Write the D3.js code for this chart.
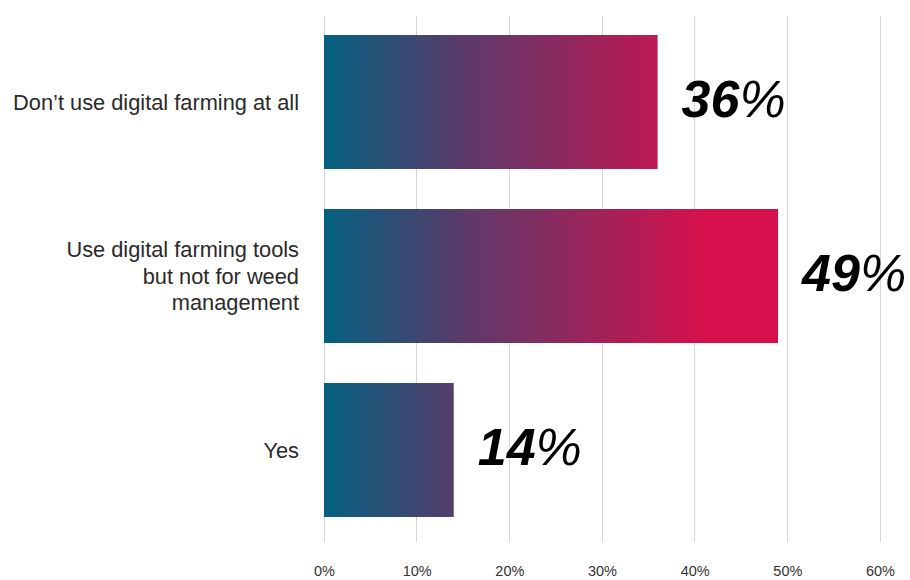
<!DOCTYPE html>
<html>
<head>
<meta charset="utf-8">
<script src="https://cdn.jsdelivr.net/npm/d3@7"></script>
<style>
  html, body { margin: 0; padding: 0; background: #fff; }
  svg { display: block; font-family: "Liberation Sans", Arial, Helvetica, sans-serif; }
</style>
</head>
<body>
<svg id="chart" width="910" height="580"></svg>
<script>
// Survey answers and their shares (%)
const categories = [
  ["Don\u2019t use digital farming at all"],
  ["Use digital farming tools", "but not for weed", "management"],
  ["Yes"]
];
const values = [36, 49, 14];
const xTicks = [0, 10, 20, 30, 40, 50, 60];

const svg = d3.select("#chart");
const left = 324, right = 880;

const x = d3.scaleLinear().domain([0, 60]).range([left, right]);
const y = d3.scaleBand()
  .domain(d3.range(values.length))
  .range([15, 537])
  .paddingInner(0.23)
  .paddingOuter(0.115);

// Colour ramp laid out across the plot so shorter bars stop earlier in the blend
const defs = svg.append("defs");
const grad = defs.append("linearGradient")
  .attr("id", "barGrad")
  .attr("gradientUnits", "userSpaceOnUse")
  .attr("x1", x(0)).attr("x2", x(41))
  .attr("y1", 0).attr("y2", 0);
grad.append("stop").attr("offset", "0%").attr("stop-color", "#03617f");
grad.append("stop").attr("offset", "35%").attr("stop-color", "#583c6b");
grad.append("stop").attr("offset", "100%").attr("stop-color", "#d5104c");

// Vertical grid lines
svg.append("g")
  .selectAll("line")
  .data(xTicks)
  .join("line")
  .attr("x1", d => x(d)).attr("x2", d => x(d))
  .attr("y1", 16).attr("y2", 542)
  .attr("stroke", "#d6d6d6")
  .attr("stroke-width", 1)
  .attr("shape-rendering", "crispEdges");

// Bottom axis labels
const axis = d3.axisBottom(x)
  .tickValues(xTicks)
  .tickFormat(d => d + "%")
  .tickSize(0)
  .tickPadding(0);
const axisG = svg.append("g")
  .attr("transform", "translate(0,566)")
  .call(axis);
axisG.select(".domain").remove();
axisG.selectAll("text")
  .attr("font-size", 14.5)
  .attr("font-family", "\"Liberation Sans\", Arial, sans-serif")
  .attr("fill", "#333");

// Bars
svg.append("g")
  .selectAll("rect")
  .data(values)
  .join("rect")
  .attr("x", x(0))
  .attr("y", (d, i) => y(i))
  .attr("width", d => x(d) - x(0))
  .attr("height", y.bandwidth())
  .attr("fill", "url(#barGrad)");

// Category labels (multi-line, right aligned)
const catG = svg.append("g")
  .selectAll("text")
  .data(categories)
  .join("text")
  .attr("text-anchor", "end")
  .attr("font-size", 21.8)
  .attr("fill", "#2a2a2a");
catG.each(function (lines, i) {
  const cy = y(i) + y.bandwidth() / 2;
  const lh = 26.5;
  const start = cy - (lines.length - 1) * lh / 2;
  d3.select(this).selectAll("tspan")
    .data(lines)
    .join("tspan")
    .attr("x", 299)
    .attr("y", (d, j) => start + j * lh)
    .attr("dy", "0.35em")
    .text(d => d);
});

// Value labels: bold italic number, regular italic percent sign
const valG = svg.append("g")
  .selectAll("text")
  .data(values)
  .join("text")
  .attr("x", d => x(d) + 24)
  .attr("y", (d, i) => y(i) + y.bandwidth() / 2 - 3)
  .attr("dy", "0.35em")
  .attr("font-size", 52)
  .attr("font-style", "italic")
  .attr("fill", "#000");
valG.append("tspan").attr("font-weight", "bold").text(d => d);
valG.append("tspan").attr("font-weight", "normal").text("%");
</script>
</body>
</html>
